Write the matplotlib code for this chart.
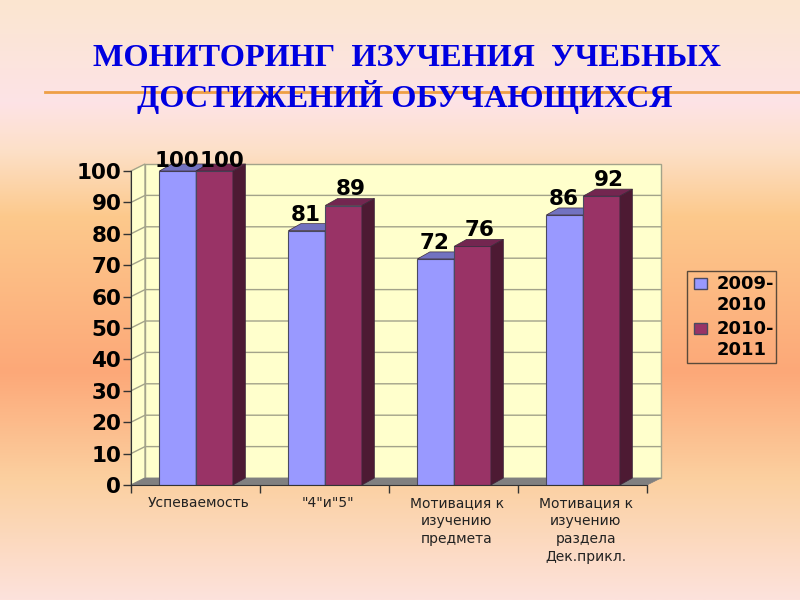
import numpy as np
import matplotlib.pyplot as plt
from matplotlib.colors import LinearSegmentedColormap
from matplotlib.patches import Polygon, Rectangle

categories = ["Успеваемость", '"4"и"5"', "Мотивация к\nизучению\nпредмета",
              "Мотивация к\nизучению\nраздела\nДек.прикл."]
series1 = [100, 81, 72, 86]
series2 = [100, 89, 76, 92]
series_names = ["2009-\n2010", "2010-\n2011"]
series_colors = ["#9999ff", "#993366"]
yticks = list(range(0, 101, 10))
title1 = "МОНИТОРИНГ  ИЗУЧЕНИЯ  УЧЕБНЫХ"
title2 = "ДОСТИЖЕНИЙ ОБУЧАЮЩИХСЯ"

W, H = 800, 600
fig = plt.figure(figsize=(8, 6), dpi=100)

# background gradient
bg = fig.add_axes([0, 0, 1, 1])
cmap = LinearSegmentedColormap.from_list("bg", [
    (0.0, "#fbe6d0"), (0.17, "#fde3e6"), (0.25, "#fde0c8"), (0.36, "#fcc98c"),
    (0.62, "#fda878"), (0.80, "#fbd0a0"), (1.0, "#fde2dc")], N=1024)
bg.imshow(np.linspace(0, 1, 600).reshape(-1, 1), aspect="auto", cmap=cmap,
          extent=[0, W, H, 0], interpolation="bilinear")
bg.set_xlim(0, W)
bg.set_ylim(H, 0)
bg.axis("off")
bg.plot([45, 800], [92, 92], color="#ee9f45", lw=2)
bg.text(407, 58, title1, ha="center", va="center", color="#0000e0", fontsize=23.2,
        family="Liberation Serif", fontweight="bold")
bg.text(405, 97, title2, ha="center", va="center", color="#0000e0", fontsize=23.2,
        family="Liberation Serif", fontweight="bold")

# plot area, pixel box of the front axes
left, right, bottom, top = 131, 647, 485, 171
ax = fig.add_axes([left / W, 1 - bottom / H, (right - left) / W, (bottom - top) / H])
ax.set_xlim(0, 4)
ax.set_ylim(0, 100)
ax.patch.set_alpha(0)

# depth of the walls and of the bars, in data units
dx, dy = 14 / 129, 7 / 3.14
bx, by = 12.5 / 129, 7 / 3.14

wall = "#ffffcc"
edge = "#a3a38a"
ax.add_patch(Polygon([(dx, dy), (4 + dx, dy), (4 + dx, 100 + dy), (dx, 100 + dy)],
                     fc=wall, ec=edge, lw=1, clip_on=False, zorder=1))
ax.add_patch(Polygon([(0, 0), (dx, dy), (dx, 100 + dy), (0, 100)],
                     fc=wall, ec=edge, lw=1, clip_on=False, zorder=1))
ax.add_patch(Polygon([(0, 0), (4, 0), (4 + dx, dy), (dx, dy)],
                     fc="#808080", ec="#808080", lw=0.5, clip_on=False, zorder=1.5))
for t in yticks[1:-1]:
    ax.plot([0, dx, 4 + dx], [t, t + dy, t + dy], color=edge, lw=1, clip_on=False, zorder=1.2)

x = np.arange(len(categories))
w = 0.285
start = 0.22


def draw_bars(xs, vals, face, topc, sidec, z):
    ax.bar(xs, vals, w, align="edge", color=face, edgecolor="#4a4a60", lw=0.8, zorder=z)
    for a, v in zip(xs, vals):
        ax.add_patch(Polygon([(a, v), (a + w, v), (a + w + bx, v + by), (a + bx, v + by)],
                             fc=topc, ec="#3c2a3c", lw=0.5, clip_on=False, zorder=z))
        ax.add_patch(Polygon([(a + w, 0), (a + w + bx, by), (a + w + bx, v + by), (a + w, v)],
                             fc=sidec, ec="#3c2a3c", lw=0.5, clip_on=False, zorder=z))


draw_bars(x + start, series1, series_colors[0], "#7272c0", "#4c4c80", 2)
draw_bars(x + start + w, series2, series_colors[1], "#732650", "#4d1a33", 3)

# labels sit 3.2 above a bar, but stay close to the top of the plot
for a, v in zip(x + start + w / 2 - 0.01, series1):
    ax.text(a, min(v + 3.2, 101.3), str(v), ha="center", va="baseline", fontsize=15.5,
            fontweight="bold", color="black", zorder=5, clip_on=False)
for a, v in zip(x + start + w * 1.5 + 0.055, series2):
    ax.text(a, min(v + 3.2, 101.3), str(v), ha="center", va="baseline", fontsize=15.5,
            fontweight="bold", color="black", zorder=5, clip_on=False)

ax.set_yticks(yticks)
ax.set_yticklabels([str(t) for t in yticks], fontsize=15.5, fontweight="bold")
ax.set_xticks(range(5))
ax.set_xticklabels([])
ax.set_xticks(x + 0.525, minor=True)
ax.set_xticklabels(categories, minor=True, fontsize=10, color="#222222", linespacing=1.35)
ax.tick_params(axis="x", which="minor", length=0, pad=8)
ax.tick_params(axis="x", which="major", length=6, width=1, color="#333333")
ax.tick_params(axis="y", length=6, width=1, color="#333333", pad=1)
for s in ["top", "right"]:
    ax.spines[s].set_visible(False)
for s in ["left", "bottom"]:
    ax.spines[s].set_color("#333333")
    ax.spines[s].set_zorder(4)

# legend box, handles sit on the first text line
bg.add_patch(Rectangle((687, 271), 89, 92, fc="none", ec="#5a4a3a", lw=1))
for i, (name, c) in enumerate(zip(series_names, series_colors)):
    y0 = 278 + i * 45
    bg.add_patch(Rectangle((694, y0), 13, 10.5, fc=c, ec="#4a4a60", lw=1))
    bg.text(717, y0 - 3, name, ha="left", va="top", fontsize=13, fontweight="bold",
            linespacing=1.2, color="black")

fig.savefig("out.png", dpi=100)
